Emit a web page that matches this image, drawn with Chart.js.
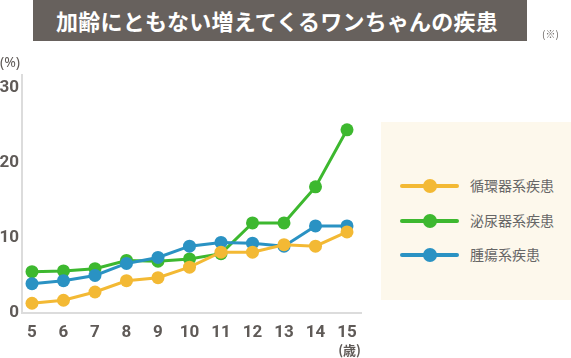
<!DOCTYPE html>
<html>
<head>
<meta charset="utf-8">
<script src="https://cdn.jsdelivr.net/npm/chart.js@4"></script>
<style>
  body { margin: 0; width: 571px; height: 358px; overflow: hidden; background: #fff; font-family: "Noto Sans CJK JP", sans-serif; }
  #wrap { position: relative; width: 571px; height: 358px; }
  #chart { position: absolute; left: 0; top: 0; }
  .title { position: absolute; left: 33px; top: 0; width: 494px; height: 41px; background: #67615d; color: #fff;
           font-weight: 700; font-size: 22px; line-height: 40px; text-align: center; letter-spacing: 0.2px; text-indent: -6px; }
  .note { position: absolute; left: 542px; top: 26px; font-size: 10px; color: #6b6663; }
  .unit { position: absolute; left: 0; top: 52px; font-size: 14px; color: #5f5a57; font-family: "Noto Sans", sans-serif; }
  #legend { position: absolute; left: 381px; top: 122px; width: 190px; height: 178px; background: #fdf8ec; }
  .item { position: absolute; left: 19px; height: 14px; }
  .item .ln { position: absolute; left: 0; top: 5px; width: 59px; height: 4px; border-radius: 2px; }
  .item .dot { position: absolute; left: 23px; top: 0; width: 14px; height: 14px; border-radius: 7px; }
  .item .tx { position: absolute; left: 70px; top: -4px; white-space: nowrap; font-size: 14px; color: #666; }
</style>
</head>
<body>
<div id="wrap">
  <canvas id="chart" width="571" height="358"></canvas>
  <div class="title">加齢にともない増えてくるワンちゃんの疾患</div>
  <div class="note">(※)</div>
  <div class="unit">(%)</div>
  <div id="legend"></div>
</div>
<script>
const ages = [5, 6, 7, 8, 9, 10, 11, 12, 13, 14, 15];
const circulatory = [1.3, 1.7, 2.8, 4.3, 4.7, 6.1, 8.1, 8.1, 9.1, 8.9, 10.8];
const urinary = [5.5, 5.6, 5.9, 7.0, 6.9, 7.2, 7.9, 12.0, 12.0, 16.8, 24.4];
const tumor = [3.9, 4.3, 5.0, 6.6, 7.4, 8.9, 9.4, 9.3, 8.9, 11.6, 11.6];
const seriesNames = ['循環器系疾患', '泌尿器系疾患', '腫瘍系疾患'];
const yTicks = [0, 10, 20, 30];

const colors = ['#f3b934', '#3db82f', '#2a92c3'];
const tickColor = '#5f5a57';
const tickFont = { family: 'Roboto, sans-serif', size: 17, weight: 'bold' };

function series(values, i, order) {
    return {
        label: seriesNames[i],
        data: values.map((v, k) => ({ x: ages[k], y: v })),
        borderColor: colors[i],
        backgroundColor: colors[i],
        borderWidth: 3,
        pointRadius: 6.5,
        pointBorderWidth: 0,
        order: order
    };
}

const chart = new Chart(document.getElementById('chart'), {
    type: 'line',
    data: {
        datasets: [
            series(circulatory, 0, 0),
            series(urinary, 1, 2),
            series(tumor, 2, 1)
        ]
    },
    options: {
        responsive: false,
        animation: false,
        layout: { padding: { top: 75, right: 210, left: 0, bottom: 0 } },
        plugins: { legend: { display: false }, tooltip: { enabled: false } },
        scales: {
            x: {
                type: 'linear',
                min: 4.683,
                max: 15.444,
                afterBuildTicks: s => { s.ticks = ages.map(v => ({ value: v })); },
                afterFit: s => { s.height = 45; },
                grid: { display: false, drawTicks: false },
                border: { display: true, color: '#dcdcdc', width: 2 },
                ticks: { color: tickColor, font: tickFont, padding: 10, autoSkip: false, maxRotation: 0 },
                title: { display: true, text: '(歳)', align: 'end', color: tickColor,
                         font: { family: '"Noto Sans CJK JP", sans-serif', size: 13, weight: 'bold' },
                         padding: { top: 0, bottom: 0 } }
            },
            y: {
                min: 0,
                max: 31.7,
                afterBuildTicks: s => { s.ticks = yTicks.map(v => ({ value: v })); },
                afterFit: s => { s.width = 22; },
                grid: { display: false, drawTicks: false },
                border: { display: true, color: '#dcdcdc', width: 2 },
                ticks: { color: tickColor, font: tickFont, padding: 3 }
            }
        }
    }
});

// legend built from the chart datasets
const legend = document.getElementById('legend');
const rowTops = [57, 92, 126];
chart.data.datasets.forEach((ds, i) => {
    const it = document.createElement('div');
    it.className = 'item';
    it.style.top = rowTops[i] + 'px';
    it.innerHTML = '<div class="ln" style="background:' + ds.borderColor + '"></div>' +
        '<div class="dot" style="background:' + ds.borderColor + '"></div>' +
        '<div class="tx">' + ds.label + '</div>';
    legend.appendChild(it);
});
</script>
</body>
</html>
